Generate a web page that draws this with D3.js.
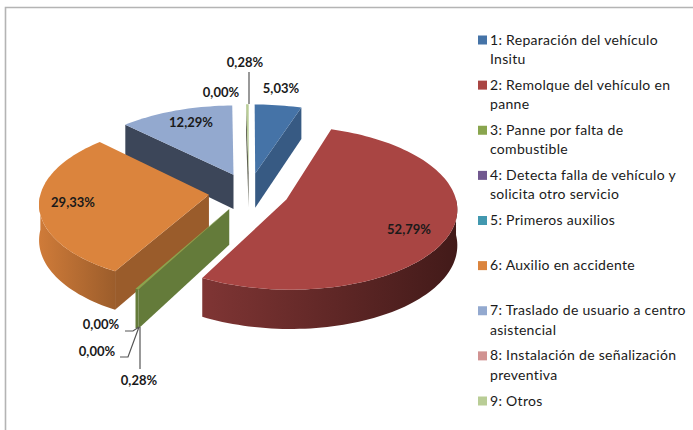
<!DOCTYPE html>
<html lang="en">
<head>
    <meta charset="UTF-8">
    <title>Pie 3D</title>
    <script src="https://d3js.org/d3.v7.min.js"></script>
    <style>
        body { margin: 0; background: #fff; }
        svg { display: block; }
        text { font-family: Lato, "Open Sans", sans-serif; fill: #1a1a1a; }
    </style>
</head>
<body>
    <svg id="chart" width="693" height="430"></svg>

    <script>
        // data
        const categories = [
            ["1: Reparación del vehículo", "Insitu"],
            ["2: Remolque del vehículo en", "panne"],
            ["3: Panne por falta de", "combustible"],
            ["4: Detecta falla de vehículo y", "solicita otro servicio"],
            ["5: Primeros auxilios"],
            ["6: Auxilio en accidente"],
            ["7: Traslado de usuario a centro", "asistencial"],
            ["8: Instalación de señalización", "preventiva"],
            ["9: Otros"]
        ];
        const values = [5.03, 52.79, 0.28, 0, 0, 29.33, 12.29, 0, 0.28];

        // styles
        const topColors = ["#4573a7", "#a94543", "#89a54e", "#71588f", "#4298af", "#db843d", "#93a9cf", "#d19392", "#b9cd96"];
        const wallColors = ["#375a83", "#7b3232", "#647b3a", "#58456f", "#337689", "#9a5c2b", "#3c4659", "#a37372", "#5f6052"];
        const rimLeft = ["#375a83", "#7f3534", "#647b3a", "#58456f", "#337689", "#cf7b39", "#3c4659", "#a37372", "#5f6052"];
        const rimRight = ["#375a83", "#421a19", "#647b3a", "#58456f", "#337689", "#9c5d2b", "#3c4659", "#a37372", "#5f6052"];

        // label anchors, in the order of values
        const labelX = [281, 409, 139, 97, 101, 73, 191, 221, 245];
        const labelY = [90, 231, 382, 353, 326, 204, 124, 94, 64];
        // leader lines
        const leaderPts = [
            [[140, 327], [140, 369]],
            [[139, 327], [128, 357], [120, 357]],
            [[139, 327], [133, 331], [125, 331]],
            [[249, 72], [249, 104]]
        ];

        // pie geometry
        const cx = 249, cy = 192;
        const radius = 168, flat = 79.5, depth = 35;
        const explode = 0.24, perspective = 0.1;

        const svg = d3.select("#chart");
        const defs = svg.append("defs");
        const pieLayout = d3.pie().sort(null).value(d => d);
        const arcs = pieLayout(values);
        const line = d3.line();
        const fmt = d3.formatLocale({ decimal: ",", thousands: ".", grouping: [3], currency: ["", ""] }).format(".2f");

        // frame
        svg.append("path")
            .attr("d", "M5.5,430V7.5H693")
            .attr("fill", "none")
            .attr("stroke", "#b4b4b4")
            .attr("stroke-width", 1.6);

        // unit disc point (u right, v away from viewer) to screen
        function project(u, v, down) {
            const k = 1 / (1 + perspective * v);
            return [cx + radius * u * k, cy - flat * v * k + depth * k * down];
        }
        function offsetOf(d) {
            const mid = (d.startAngle + d.endAngle) / 2;
            return [explode * Math.sin(mid), explode * Math.cos(mid)];
        }
        function rimPoint(d, a, down) {
            const o = offsetOf(d);
            return project(o[0] + Math.sin(a), o[1] + Math.cos(a), down);
        }
        function apex(d, down) {
            const o = offsetOf(d);
            return project(o[0], o[1], down);
        }
        function angles(a0, a1) {
            const n = Math.max(2, Math.ceil((a1 - a0) / 0.03));
            return d3.range(n + 1).map(i => a0 + (a1 - a0) * i / n);
        }

        // far slices first, so nearer ones paint over them
        const order = arcs
            .map((d, i) => ({ d, i }))
            .filter(s => s.d.value > 0)
            .sort((a, b) => offsetOf(b.d)[1] - offsetOf(a.d)[1]);

        order.forEach(({ d, i }) => {
            const g = svg.append("g").attr("class", "slice");
            const a0 = d.startAngle, a1 = d.endAngle;

            // walls facing the viewer
            if (Math.sin(a0) < -1e-6) {
                g.append("path")
                    .attr("d", line([rimPoint(d, a0, 0), apex(d, 0), apex(d, 1), rimPoint(d, a0, 1)]) + "Z")
                    .attr("fill", wallColors[i]);
            }
            if (Math.sin(a1) > 1e-6) {
                g.append("path")
                    .attr("d", line([rimPoint(d, a1, 0), apex(d, 0), apex(d, 1), rimPoint(d, a1, 1)]) + "Z")
                    .attr("fill", wallColors[i]);
            }

            // outer rim, only the near half shows
            const r0 = Math.max(a0, Math.PI / 2), r1 = Math.min(a1, Math.PI * 1.5);
            if (r1 > r0) {
                const ang = angles(r0, r1);
                const pts = ang.map(a => rimPoint(d, a, 0)).concat(ang.slice().reverse().map(a => rimPoint(d, a, 1)));
                const xs = d3.extent(pts, p => p[0]);
                const grad = defs.append("linearGradient")
                    .attr("id", "rim" + i)
                    .attr("gradientUnits", "userSpaceOnUse")
                    .attr("x1", xs[0]).attr("x2", xs[1])
                    .attr("y1", 0).attr("y2", 0);
                grad.append("stop").attr("offset", 0).attr("stop-color", rimLeft[i]);
                grad.append("stop").attr("offset", 1).attr("stop-color", rimRight[i]);
                g.append("path")
                    .attr("d", line(pts) + "Z")
                    .attr("fill", `url(#rim${i})`);
            }

            // top face
            const face = [apex(d, 0)].concat(angles(a0, a1).map(a => rimPoint(d, a, 0)));
            g.append("path")
                .attr("d", line(face) + "Z")
                .attr("fill", topColors[i]);
        });

        // leader lines
        svg.selectAll(".leader")
            .data(leaderPts)
            .enter().append("path")
            .attr("class", "leader")
            .attr("d", d => line(d))
            .attr("fill", "none")
            .attr("stroke", "#555")
            .attr("stroke-width", 1.2);

        // data labels
        svg.selectAll(".label")
            .data(values)
            .enter().append("text")
            .attr("class", "label")
            .attr("x", (d, i) => labelX[i])
            .attr("y", (d, i) => labelY[i])
            .attr("text-anchor", "middle")
            .attr("dominant-baseline", "middle")
            .attr("font-size", 13)
            .attr("font-weight", 700)
            .text(d => fmt(d) + "%");

        // legend
        const legendY = d3.scaleLinear().domain([0, 8]).range([41, 402]);
        const legend = svg.selectAll(".legend")
            .data(categories)
            .enter().append("g")
            .attr("class", "legend")
            .attr("transform", (d, i) => `translate(478,${legendY(i)})`);
        legend.append("rect")
            .attr("y", -5.5)
            .attr("width", 9)
            .attr("height", 9)
            .attr("fill", (d, i) => topColors[i]);
        legend.selectAll("text")
            .data(d => d)
            .enter().append("text")
            .attr("x", 12)
            .attr("y", (d, i) => i * 19.4)
            .attr("dominant-baseline", "middle")
            .attr("font-size", 14)
            .attr("letter-spacing", 0.3)
            .text(d => d);
    </script>
</body>
</html>
